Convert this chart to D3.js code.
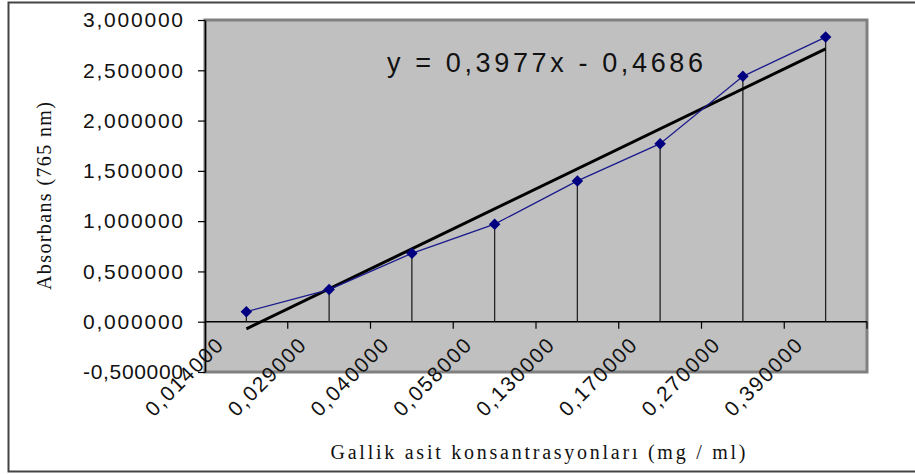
<!DOCTYPE html>
<html>
<head>
<meta charset="utf-8">
<script src="https://cdn.jsdelivr.net/npm/d3@7"></script>
<style>
  body { margin: 0; background: #fff; }
  svg { display: block; }
</style>
</head>
<body>
<div id="chart"></div>
<script>
var width = 915;
var height = 474;

// Concentrations (category labels) and measured absorbance
var categories = ["0,014000", "0,029000", "0,040000", "0,058000", "0,130000", "0,170000", "0,270000", "0,390000"];
var absorbance = [0.10, 0.32, 0.68, 0.97, 1.40, 1.77, 2.44, 2.83];

// Linear trendline from the chart: y = 0,3977x - 0,4686
var slope = 0.3977;
var intercept = -0.4686;

var yTicks = [-0.5, 0, 0.5, 1, 1.5, 2, 2.5, 3];

// Plot area box
var plot = { left: 205, right: 867, top: 20, bottom: 372 };

var svg = d3.select("#chart").append("svg")
    .attr("width", width)
    .attr("height", height);

// Outer frame (right side is cut off in the reference)
svg.append("path")
  .attr("d", "M915,2.5 H8.5 V471.5 H915")
  .attr("fill", "none")
  .attr("stroke", "#444")
  .attr("stroke-width", 2);

var x = d3.scaleBand()
  .domain(categories)
  .range([plot.left, plot.right]);

var y = d3.scaleLinear()
  .domain([-0.5, 3])
  .range([plot.bottom, plot.top]);

var cx = d => x(d) + x.bandwidth() / 2;

// Grey plot area
svg.append("rect")
  .attr("x", plot.left)
  .attr("y", plot.top)
  .attr("width", plot.right - plot.left)
  .attr("height", plot.bottom - plot.top)
  .attr("fill", "#c0c0c0")
  .attr("stroke", "#808080")
  .attr("stroke-width", 3);

// Y axis (plain hyphen for the minus sign, comma as decimal mark)
var fmt = d => d3.format(".6f")(d).replace(".", ",").replace("\u2212", "-");
var yAxis = svg.append("g")
  .attr("transform", "translate(" + plot.left + ",0)")
  .call(d3.axisLeft(y).tickValues(yTicks).tickFormat(fmt).tickSize(7).tickSizeOuter(0));
yAxis.select(".domain").attr("stroke", "#000").attr("stroke-width", 1.5);
yAxis.selectAll(".tick line").attr("stroke", "#000").attr("stroke-width", 1.2);
yAxis.selectAll("text")
  .attr("x", -22)
  .attr("fill", "#111")
  .style("font-family", "Arial, 'Liberation Sans', sans-serif")
  .style("font-size", "21px")
  .attr("textLength", 100)
  .attr("lengthAdjust", "spacing");

// X axis at y = 0, ticks between categories
var xAxis = svg.append("g")
  .attr("transform", "translate(0," + y(0) + ")");
xAxis.append("line")
  .attr("x1", plot.left).attr("x2", plot.right)
  .attr("stroke", "#000").attr("stroke-width", 1.5);
xAxis.selectAll("line.tick")
  .data(categories.slice(1).concat(["end"]))
  .enter().append("line")
    .attr("class", "tick")
    .attr("x1", (d, i) => plot.left + (i + 1) * x.bandwidth())
    .attr("x2", (d, i) => plot.left + (i + 1) * x.bandwidth())
    .attr("y1", 0).attr("y2", 7)
    .attr("stroke", "#000").attr("stroke-width", 1.2);

// Rotated category labels
svg.selectAll("text.xlabel")
  .data(categories)
  .enter().append("text")
    .attr("class", "xlabel")
    .attr("transform", d => "translate(" + (cx(d) - 22) + ",347) rotate(-45)")
    .attr("text-anchor", "end")
    .attr("fill", "#111")
    .style("font-family", "Arial, 'Liberation Sans', sans-serif")
    .style("font-size", "21px")
    .attr("textLength", 100)
    .attr("lengthAdjust", "spacing")
    .text(d => d);

// Drop lines from each point down to the axis
svg.selectAll("line.drop")
  .data(categories)
  .enter().append("line")
    .attr("class", "drop")
    .attr("x1", d => cx(d)).attr("x2", d => cx(d))
    .attr("y1", (d, i) => y(absorbance[i]))
    .attr("y2", y(0))
    .attr("stroke", "#222")
    .attr("stroke-width", 1.3);

// Trendline
var trend = categories.map((c, i) => [cx(c), y(slope * (i + 1) + intercept)]);
svg.append("path")
  .attr("d", d3.line()([trend[0], trend[trend.length - 1]]))
  .attr("stroke", "#000")
  .attr("stroke-width", 3)
  .attr("fill", "none");

// Data series
var series = categories.map((c, i) => [cx(c), y(absorbance[i])]);
svg.append("path")
  .attr("d", d3.line()(series))
  .attr("stroke", "#1a1a8c")
  .attr("stroke-width", 1.3)
  .attr("fill", "none");

svg.selectAll("path.marker")
  .data(series)
  .enter().append("path")
    .attr("class", "marker")
    .attr("d", d3.symbol().type(d3.symbolDiamond2).size(85))
    .attr("transform", d => "translate(" + d[0] + "," + d[1] + ")")
    .attr("fill", "#000080");

// Trendline equation
svg.append("text")
  .attr("x", 387)
  .attr("y", 72)
  .attr("fill", "#111")
  .style("font-family", "Arial, 'Liberation Sans', sans-serif")
  .style("font-size", "27px")
  .attr("textLength", 316)
  .attr("lengthAdjust", "spacing")
  .text("y = 0,3977x - 0,4686");

// Axis titles
svg.append("text")
  .attr("transform", "translate(51,196) rotate(-90)")
  .attr("text-anchor", "middle")
  .attr("fill", "#111")
  .style("font-family", "'Times New Roman', 'Liberation Serif', serif")
  .style("font-size", "20px")
  .attr("textLength", 188)
  .attr("lengthAdjust", "spacing")
  .text("Absorbans (765 nm)");

svg.append("text")
  .attr("x", 538)
  .attr("y", 459)
  .attr("text-anchor", "middle")
  .attr("fill", "#111")
  .style("font-family", "'Times New Roman', 'Liberation Serif', serif")
  .style("font-size", "20px")
  .attr("textLength", 415)
  .attr("lengthAdjust", "spacing")
  .text("Gallik asit konsantrasyonları (mg / ml)");
</script>
</body>
</html>
